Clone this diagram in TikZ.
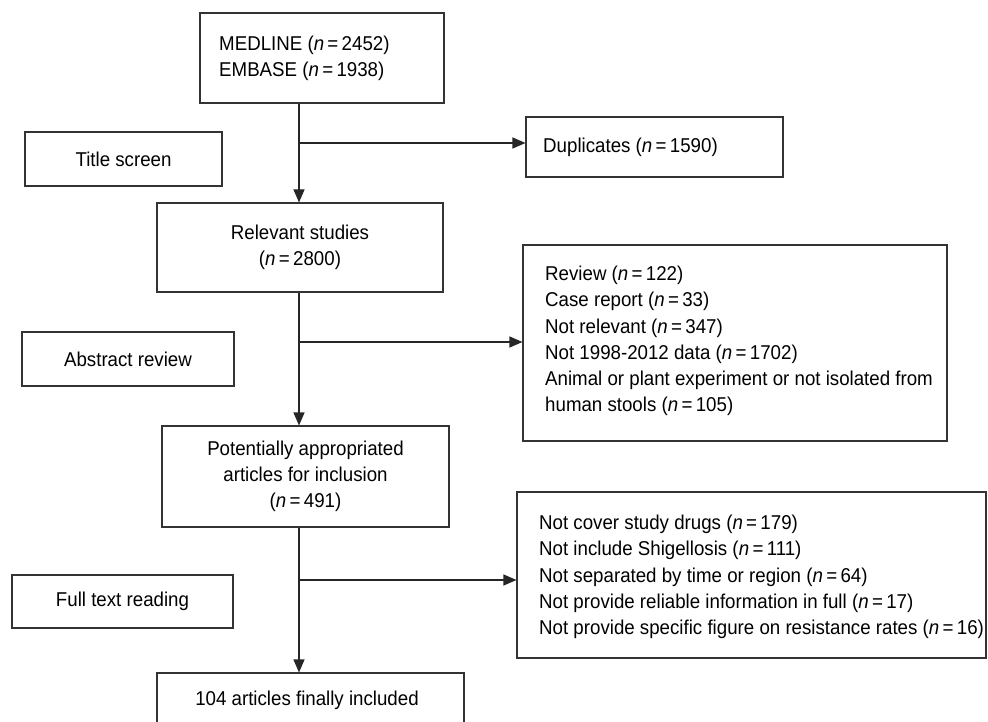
\documentclass[tikz,border=0pt]{standalone}
\usepackage{fontspec}
\setmainfont{Liberation Sans}[FakeStretch=0.935]
\usetikzlibrary{arrows.meta}
\newcommand{\nval}[1]{(\textit{n}\,=\,#1)}
\begin{document}
\begin{tikzpicture}[x=1pt,y=-1pt,
 box/.style={draw=black!80, line width=1.1pt, rectangle, inner sep=0pt},
 txt/.style={font=\fontsize{20}{26.3}\selectfont, inner sep=0pt, align=center},
 ltxt/.style={txt, align=left, anchor=west},
 arr/.style={draw=black!85, line width=1.1pt, -{Triangle[length=13pt,width=11pt]}},
 ln/.style={draw=black!85, line width=1.1pt}]
\useasboundingbox (0,0) rectangle (988,722);
% boxes
\node[box, minimum width=244pt, minimum height=90pt] (src) at (322,58) {};
\node[ltxt] (srct) at (219,58) {MEDLINE \nval{2452}\\EMBASE \nval{1938}};
\node[box, txt, minimum width=197pt, minimum height=54pt] (title) at (123.5,159) {Title screen};
\node[box, minimum width=257pt, minimum height=60pt] (dup) at (654.5,147) {};
\node[ltxt] (dupt) at (543,147) {Duplicates \nval{1590}};
\node[box, txt, minimum width=286pt, minimum height=89pt] (rel) at (300,247.5) {Relevant studies\\\nval{2800}};
\node[box, txt, minimum width=212pt, minimum height=54pt] (abs) at (128,359) {Abstract review};
\node[box, minimum width=424pt, minimum height=196pt] (ex1) at (735,343) {};
\node[ltxt] (ex1t) at (545,341) {Review \nval{122}\\Case report \nval{33}\\Not relevant \nval{347}\\Not 1998-2012 data \nval{1702}\\Animal or plant experiment or not isolated from\\human stools \nval{105}};
\node[box, txt, minimum width=287pt, minimum height=101pt] (pot) at (305.5,476.5) {Potentially appropriated\\articles for inclusion\\\nval{491}};
\node[box, minimum width=469pt, minimum height=166pt] (ex2) at (751.5,575) {};
\node[ltxt] (ex2t) at (539,577) {Not cover study drugs \nval{179}\\Not include Shigellosis \nval{111}\\Not separated by time or region \nval{64}\\Not provide reliable information in full \nval{17}\\Not provide specific figure on resistance rates \nval{16}};
\node[box, txt, minimum width=221pt, minimum height=53pt] (full) at (122.5,601.5) {Full text reading};
\node[box, minimum width=307pt, minimum height=54pt] (fin) at (310.5,700) {};
\node[txt] (fint) at (307,700) {104 articles finally included};
% connectors
\coordinate (b1) at (299,143);
\coordinate (b2) at (299,342);
\coordinate (b3) at (299,580);
\draw[ln] (src.south -| b1) -- (b1);
\draw[arr] (b1) -- (b1 |- rel.north);
\draw[arr] (b1) -- (b1 -| dup.west);
\draw[ln] (rel.south -| b2) -- (b2);
\draw[arr] (b2) -- (b2 |- pot.north);
\draw[arr] (b2) -- (b2 -| ex1.west);
\draw[ln] (pot.south -| b3) -- (b3);
\draw[arr] (b3) -- (b3 |- fin.north);
\draw[arr] (b3) -- (b3 -| ex2.west);
\end{tikzpicture}
\end{document}
